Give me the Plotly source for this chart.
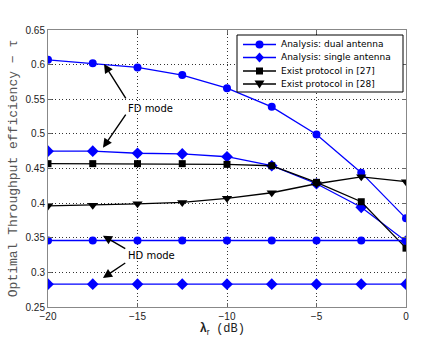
import plotly.graph_objects as go

lam = [-20, -17.5, -15, -12.5, -10, -7.5, -5, -2.5, 0]
fd_dual = [0.607, 0.602, 0.596, 0.585, 0.566, 0.539, 0.499, 0.444, 0.378]
fd_single = [0.475, 0.475, 0.472, 0.471, 0.467, 0.454, 0.428, 0.394, 0.345]
exist27 = [0.457, 0.457, 0.457, 0.457, 0.456, 0.454, 0.430, 0.402, 0.335]
exist28 = [0.396, 0.397, 0.399, 0.401, 0.407, 0.415, 0.428, 0.438, 0.431]
hd_dual = [0.346] * 9
hd_single = [0.283] * 9
legend_names = ["Analysis: dual antenna", "Analysis: single antenna",
                "Exist protocol in [27]", "Exist protocol in [28]"]

BLUE = "#0000ff"
W, H = 422, 338
ML, MR, MT, MB = 48, 16, 30, 31
PW, PH = W - ML - MR, H - MT - MB

fig = go.Figure()
styles = [
    (fd_dual, BLUE, "circle", 8),
    (fd_single, BLUE, "diamond", 9),
    (exist27, "black", "square", 7),
    (exist28, "black", "triangle-down", 9),
    (hd_dual, BLUE, "circle", 8),
    (hd_single, BLUE, "diamond", 9),
]
for i, (ys, col, sym, sz) in enumerate(styles):
    fig.add_trace(go.Scatter(x=lam, y=ys, mode="lines+markers",
                             name=legend_names[i] if i < 4 else "", showlegend=False,
                             line=dict(color=col, width=1.3),
                             marker=dict(symbol=sym, size=sz, color=col)))

def arrow(tx, ty, hx, hy):
    fig.add_annotation(x=hx, y=hy, ax=tx, ay=ty, xref="x", yref="y", axref="x", ayref="y",
                       text="", showarrow=True, arrowhead=2, arrowsize=1.3, arrowwidth=1.4, arrowcolor="black")

arrow(-15.6, 0.549, -16.87, 0.601)
arrow(-15.6, 0.530, -16.93, 0.480)
arrow(-15.6, 0.333, -16.93, 0.353)
arrow(-15.6, 0.315, -16.93, 0.292)
fig.add_annotation(x=-15.65, y=0.537, text="FD mode", showarrow=False, xanchor="left",
                   font=dict(family="DejaVu Sans", size=10, color="black"))
fig.add_annotation(x=-15.65, y=0.324, text="HD mode", showarrow=False, xanchor="left",
                   font=dict(family="DejaVu Sans", size=10, color="black"))

# manual legend (pixel layout converted to paper coordinates)
def px(x):
    return (x - ML) / PW
def py(y):
    return (H - MB - y) / PH

fig.add_shape(type="rect", xref="paper", yref="paper", x0=px(237), x1=px(403), y0=py(92), y1=py(35),
              line=dict(color="black", width=1), fillcolor="white", layer="above")
rows = [44.5, 57.5, 71, 84]
for i, yrow in enumerate(rows):
    ys, col, sym, sz = styles[i]
    fig.add_shape(type="line", xref="paper", yref="paper", x0=px(243), x1=px(276), y0=py(yrow), y1=py(yrow),
                  line=dict(color=col, width=1.3), layer="above")
    cx = 259.5
    if sym == "circle":
        r = 4
        fig.add_shape(type="circle", xref="paper", yref="paper", x0=px(cx - r), x1=px(cx + r),
                      y0=py(yrow + r), y1=py(yrow - r), fillcolor=col, line=dict(color=col, width=0), layer="above")
    else:
        if sym == "diamond":
            pts = [(cx, yrow - 5), (cx + 4.5, yrow), (cx, yrow + 5), (cx - 4.5, yrow)]
        elif sym == "square":
            pts = [(cx - 3.5, yrow - 3.5), (cx + 3.5, yrow - 3.5), (cx + 3.5, yrow + 3.5), (cx - 3.5, yrow + 3.5)]
        else:
            pts = [(cx - 5, yrow - 3.5), (cx + 5, yrow - 3.5), (cx, yrow + 4.5)]
        path = "M " + " L ".join(f"{px(a):.5f},{py(b):.5f}" for a, b in pts) + " Z"
        fig.add_shape(type="path", xref="paper", yref="paper", path=path, fillcolor=col,
                      line=dict(color=col, width=0), layer="above")
    fig.add_annotation(xref="paper", yref="paper", x=px(279), y=py(yrow), text=legend_names[i],
                       showarrow=False, xanchor="left", yanchor="middle",
                       font=dict(family="DejaVu Sans", size=9, color="black"))

# x-axis title placed as annotation so it can sit lower in the margin
fig.add_annotation(xref="paper", yref="paper", x=px(222), y=py(329), xanchor="center", yanchor="middle",
                   showarrow=False,
                   text="<b>\u03bb</b><sub>r</sub>  <span style='font-family:Liberation Mono'>(dB)</span>",
                   font=dict(family="Liberation Sans, Arial", size=12, color="#222"))

axis_common = dict(showline=True, linecolor="#888", linewidth=1, mirror="ticks", ticks="inside",
                   ticklen=4, tickcolor="#666", showgrid=True, gridcolor="#333", griddash="1px,2.5px",
                   gridwidth=1, zeroline=False, automargin=False,
                   tickfont=dict(family="Liberation Sans, Arial", size=10, color="#222"))
fig.update_xaxes(range=[-20, 0], tickvals=[-20, -15, -10, -5, 0],
                 ticktext=["\u221220", "\u221215", "\u221210", "\u22125", "0"],
                 **axis_common)
fig.update_yaxes(range=[0.25, 0.65], tickvals=[0.25, 0.3, 0.35, 0.4, 0.45, 0.5, 0.55, 0.6, 0.65],
                 ticktext=["0.25", "0.3", "0.35", "0.4", "0.45", "0.5", "0.55", "0.6", "0.65"],
                 title=dict(text="Optimal Throughput efficiency \u2212 \u03c4",
                            font=dict(family="Liberation Mono, monospace", size=13, color="#555"), standoff=4),
                 **axis_common)
fig.update_layout(width=W, height=H, margin=dict(l=ML, r=MR, t=MT, b=MB),
                  plot_bgcolor="white", paper_bgcolor="white", showlegend=False)
fig.write_html("out.html")
